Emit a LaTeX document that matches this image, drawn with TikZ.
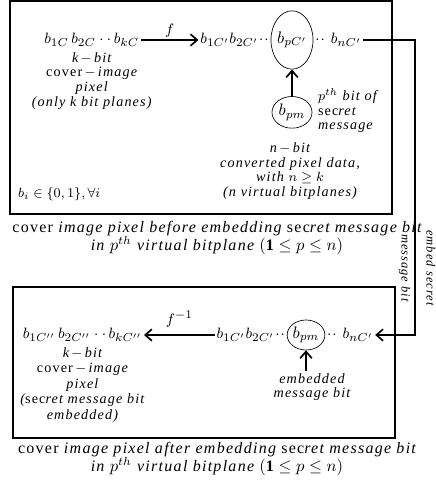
\documentclass[tikz,border=0pt]{standalone}
\usepackage{amsmath, amssymb}
\usepackage{fontspec}
\setmainfont{Liberation Serif}[LetterSpace=8]
\usetikzlibrary{arrows.meta, positioning, shapes.geometric}

\begin{document}
\begin{tikzpicture}[x=0.6pt, y=-0.6pt,
                txt/.style={align=center, font=\itshape\fontsize{8.5}{8.8}\selectfont, inner sep=1pt},
                capline/.style={align=center, font=\itshape\fontsize{9.6}{10.8}\selectfont, inner sep=1pt},
                seq/.style={font=\fontsize{9.5}{11}\selectfont, inner sep=1pt},
                bitring/.style={draw, ellipse, thin, inner sep=0pt},
                frame/.style={draw, line width=1.3pt},
                arrow/.style={-{Straight Barb[length=4pt, width=7pt]}, line width=1pt}]

                \useasboundingbox (0,0) rectangle (435,482);

                % upper frame: pixel before embedding
                \draw[frame] (10,1) rectangle (392,214);

                % k-bit cover pixel
                \node[seq, anchor=east] (cov) at (141,40) {$b_{1C}\,b_{2C}\cdot\cdot\,b_{kC}$};
                \node[txt, below=1pt of cov] (covtxt) {k$\,-\,$bit\\{\upshape cover}$\,-\,$image\\pixel\\(only k bit planes)};

                % n-bit converted pixel
                \node[bitring, minimum width=16pt, minimum height=35pt] (bpc) at (292,40) {$b_{pC'}$};
                \node[seq, left=0pt of bpc] (conva) {$b_{1C'}b_{2C'}\!\cdot\!\cdot$};
                \node[seq, right=0pt of bpc] (convb) {$\cdot\!\cdot\,b_{nC'}$};
                \draw[arrow] (cov) -- node[above, seq] (fl) {$f$} (conva);

                % secret message bit
                \node[bitring, minimum width=24pt, minimum height=19pt, below=16pt of bpc] (bpm) {$b_{pm}$};
                \draw[arrow] (bpm) -- (bpc);
                \node[txt, align=left, anchor=west] (pthtxt) at (316,111) {$p^{th}$ bit of\\{\upshape sec}ret\\message};
                \node[txt] (nbit) at (290,171) {n$\,-\,$bit\\converted pixel data,\\with $n\geq k$\\(n virtual bitplanes)};
                \node[txt, anchor=west] (bset) at (16,194) {$b_i\in\{0,1\},\forall i$};

                \node[capline] (capa) at (217,238) {{\upshape cover} image pixel before embedding {\upshape sec}ret message bit\\in $p^{th}$ virtual bitplane $(\mathbf{1}\leq p\leq n)$};

                % lower frame: pixel after embedding
                \draw[frame] (13,287) rectangle (395,438);

                \node[bitring, minimum width=20pt, minimum height=18pt] (bpme) at (306,335) {$b_{pm}$};
                \node[seq, left=0pt of bpme] (emba) {$b_{1C'}b_{2C'}\!\cdot\!\cdot$};
                \node[seq, right=0pt of bpme] (embb) {$\cdot\!\cdot\,b_{nC'}$};
                \node[seq, anchor=east] (stego) at (144,335) {$b_{1C''}\,b_{2C''}\cdot\cdot\,b_{kC''}$};
                \draw[arrow] (emba) -- node[above=3pt, seq] (finv) {$f^{-1}$} (stego);
                \node[txt] (embtxt) at (312,387) {embedded\\message bit};
                \draw[arrow] (embtxt.north -| bpme.south) -- (bpme.south);
                \node[txt, below=1pt of stego, font=\itshape\fontsize{8.5}{9.3}\selectfont] (stegotxt) {k$\,-\,$bit\\{\upshape cover}$\,-\,$image\\pixel\\({\upshape sec}ret message bit\\embedded)};

                \node[capline] (capb) at (217,459) {{\upshape cover} image pixel after embedding {\upshape sec}ret message bit\\in $p^{th}$ virtual bitplane $(\mathbf{1}\leq p\leq n)$};

                % embedding link
                \coordinate (turnA) at (415,40);
                \coordinate (turnB) at (415,335);
                \draw[arrow] (convb) -- (turnA) -- (turnB) -- (embb);
                \node[txt, rotate=-90, font=\itshape\fontsize{7.5}{15}\selectfont] (embl) at (417,268) {embed secret\\message bit};
            \end{tikzpicture}
\end{document}
